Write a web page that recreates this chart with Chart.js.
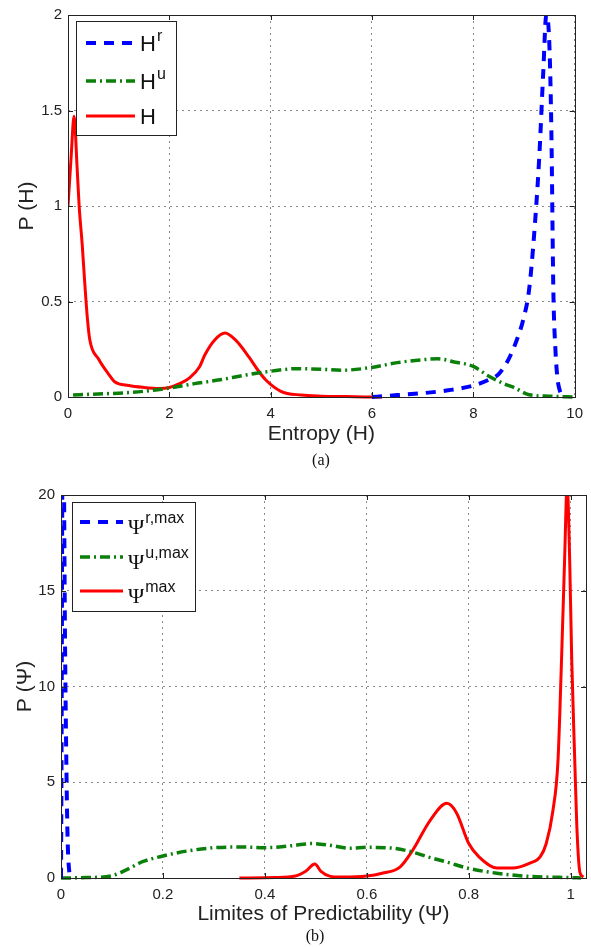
<!DOCTYPE html>
<html>
<head>
<meta charset="utf-8">
<script src="https://cdn.jsdelivr.net/npm/chart.js@4.4.1/dist/chart.umd.min.js"></script>
<style>
  body { margin: 0; background: #fff; width: 591px; height: 947px; position: relative; overflow: hidden; }
  canvas { position: absolute; left: 0; }
  #ca { top: 0; }
  #cb { top: 450px; }
  .cap { position: absolute; font-family: "Liberation Serif", serif; font-size: 16px; color: #111; transform: translate(-50%, -50%); }
</style>
</head>
<body>
<canvas id="ca" width="591" height="450"></canvas>
<canvas id="cb" width="591" height="497"></canvas>
<div class="cap" style="left:321px; top:460px;">(a)</div>
<div class="cap" style="left:315px; top:936px;">(b)</div>
<script>
// (a) entropy distributions
const hX = [0, 0.06, 0.12, 0.18, 0.22, 0.28, 0.33, 0.38, 0.43, 0.6, 0.8, 0.92, 1.2, 1.5, 1.8, 2.0, 2.2, 2.4, 2.6, 2.7, 2.9, 3.1, 3.3, 3.57, 3.75, 3.9, 4.2, 4.6, 5.0, 5.5, 6.0, 6.2];
const hY = [1.0, 1.25, 1.47, 1.2, 1.0, 0.8, 0.6, 0.42, 0.3, 0.2, 0.12, 0.08, 0.06, 0.05, 0.045, 0.05, 0.07, 0.1, 0.16, 0.22, 0.3, 0.335, 0.3, 0.21, 0.14, 0.09, 0.03, 0.01, 0.004, 0.002, 0.0, 0.0];

const hUX = [0.1, 0.5, 1.0, 1.5, 2.0, 2.5, 3.0, 3.5, 4.0, 4.5, 5.0, 5.4, 6.0, 6.5, 7.0, 7.3, 7.6, 8.0, 8.3, 8.6, 8.8, 9.1, 9.5, 10.0];
const hUY = [0.01, 0.015, 0.02, 0.03, 0.047, 0.07, 0.09, 0.115, 0.135, 0.148, 0.145, 0.14, 0.155, 0.18, 0.195, 0.2, 0.185, 0.16, 0.11, 0.07, 0.05, 0.012, 0.004, 0.0];

const hRX = [6.0, 6.5, 7.0, 7.5, 8.0, 8.3, 8.5, 8.7, 8.86, 9.0, 9.1, 9.2, 9.3, 9.38, 9.44, 9.5, 9.54, 9.58, 9.62, 9.66, 9.7, 9.75, 9.8];
const hRY = [0.0, 0.01, 0.02, 0.035, 0.06, 0.09, 0.12, 0.2, 0.3, 0.42, 0.56, 0.85, 1.25, 1.7, 2.0, 1.85, 1.4, 0.55, 0.25, 0.1, 0.04, 0.01, 0.0];

// (b) limits of predictability
const pRX = [0, 0.001, 0.003, 0.005, 0.008, 0.011, 0.013, 0.016, 0.02];
const pRY = [0, 6, 22, 22, 12, 5, 2, 0.4, 0];

const pUX = [0, 0.05, 0.1, 0.13, 0.16, 0.2, 0.25, 0.3, 0.35, 0.4, 0.45, 0.494, 0.53, 0.567, 0.6, 0.65, 0.69, 0.72, 0.756, 0.8, 0.855, 0.9, 0.95, 1.0, 1.02];
const pUY = [0, 0.02, 0.12, 0.45, 0.85, 1.15, 1.42, 1.58, 1.62, 1.58, 1.68, 1.8, 1.7, 1.55, 1.6, 1.56, 1.35, 1.1, 0.84, 0.5, 0.25, 0.12, 0.05, 0.02, 0];

const pMX = [0.35, 0.42, 0.46, 0.48, 0.498, 0.51, 0.527, 0.55, 0.6, 0.63, 0.665, 0.69, 0.724, 0.757, 0.776, 0.8, 0.82, 0.855, 0.886, 0.92, 0.94, 0.952, 0.965, 0.975, 0.982, 0.988, 0.993, 0.998, 1.002, 1.008, 1.012, 1.018, 1.025];
const pMY = [0, 0.02, 0.1, 0.35, 0.73, 0.35, 0.1, 0.05, 0.1, 0.25, 0.57, 1.45, 3.0, 3.9, 3.4, 1.8, 1.1, 0.52, 0.52, 0.78, 1.1, 1.8, 3.5, 6.1, 11.4, 16.6, 20.5, 16.6, 11.4, 6.1, 2.7, 0.3, 0.05];

const xTicksA = [0, 2, 4, 6, 8, 10];
const yTicksA = [0, 0.5, 1, 1.5, 2];
const xTicksB = [0, 0.2, 0.4, 0.6, 0.8, 1];
const yTicksB = [0, 5, 10, 15, 20];

const legendA = [['H', 'r'], ['H', 'u'], ['H', '']];
const legendB = [['Ψ', 'r,max'], ['Ψ', 'u,max'], ['Ψ', 'max']];

const BLUE = '#0000ff', GREEN = '#0a800a', RED = '#ff0000';
const SANS = '"Liberation Sans", Arial, sans-serif';
const SERIF = '"Liberation Serif", "Times New Roman", serif';

const pts = (xs, ys) => xs.map((x, i) => ({ x: x, y: ys[i] }));

function ds(label, xs, ys, color, dash, width) {
  return {
    label: label,
    data: pts(xs, ys),
    borderColor: color,
    borderWidth: width,
    borderDash: dash,
    borderCapStyle: 'butt',
    pointRadius: 0,
    fill: false,
    cubicInterpolationMode: 'monotone',
    clip: { left: 0, top: 0, right: 0, bottom: 3 }
  };
}

// box, inward ticks and a legend with superscripts
const frame = {
  id: 'frame',
  afterDatasetsDraw(chart, args, o) {
    const { ctx, chartArea: a, scales } = chart;
    ctx.save();
    ctx.strokeStyle = '#222';
    ctx.lineWidth = 1;
    ctx.setLineDash([]);
    ctx.beginPath();
    scales.x.ticks.forEach(t => {
      const px = Math.round(scales.x.getPixelForValue(t.value)) + 0.5;
      ctx.moveTo(px, a.bottom); ctx.lineTo(px, a.bottom - 5);
      ctx.moveTo(px, a.top); ctx.lineTo(px, a.top + 5);
    });
    scales.y.ticks.forEach(t => {
      const py = Math.round(scales.y.getPixelForValue(t.value)) + 0.5;
      ctx.moveTo(a.left, py); ctx.lineTo(a.left + 5, py);
      ctx.moveTo(a.right, py); ctx.lineTo(a.right - 5, py);
    });
    ctx.stroke();
    ctx.strokeRect(Math.round(a.left) + 0.5, Math.round(a.top) + 0.5, Math.round(a.right - a.left), Math.round(a.bottom - a.top));

    // legend
    const b = o.box;
    ctx.fillStyle = '#fff';
    ctx.fillRect(b[0], b[1], b[2] - b[0], b[3] - b[1]);
    ctx.strokeRect(b[0] + 0.5, b[1] + 0.5, b[2] - b[0], b[3] - b[1]);
    chart.data.datasets.forEach((d, i) => {
      const y = o.rows[i];
      ctx.save();
      ctx.strokeStyle = d.borderColor;
      ctx.lineWidth = d.borderWidth;
      ctx.setLineDash(d.borderDash || []);
      ctx.beginPath();
      ctx.moveTo(o.sample[0], y);
      ctx.lineTo(o.sample[1], y);
      ctx.stroke();
      ctx.restore();
      ctx.fillStyle = '#111';
      ctx.textBaseline = 'alphabetic';
      ctx.font = o.baseFont;
      const [base, sup] = o.items[i];
      ctx.fillText(base, o.textX, y + o.baseOff);
      const w = ctx.measureText(base).width;
      ctx.font = o.supFont;
      ctx.fillText(sup, o.textX + w + 1, y + o.supOff);
    });
    ctx.restore();
  }
};

function axes(xmin, xmax, xt, ymin, ymax, yt, yWidth, xHeight, xTitle, yTitle, xPadB, yPad, tickPad) {
  const grid = { color: '#8a8a8a', lineWidth: 1, drawTicks: false };
  const border = { display: false, dash: [2, 4] };
  const tickFont = { family: SANS, size: 15 };
  return {
    x: {
      type: 'linear', min: xmin, max: xmax,
      afterBuildTicks: s => { s.ticks = xt.map(v => ({ value: v })); },
      afterFit: s => { s.height = xHeight; },
      grid: grid, border: border,
      ticks: { font: tickFont, color: '#222', padding: tickPad, maxRotation: 0, autoSkip: false, callback: v => String(v) },
      title: { display: true, text: xTitle, color: '#222', font: { family: SANS, size: 21 }, padding: { top: 0, bottom: xPadB } }
    },
    y: {
      type: 'linear', min: ymin, max: ymax,
      afterBuildTicks: s => { s.ticks = yt.map(v => ({ value: v })); },
      afterFit: s => { s.width = yWidth; },
      grid: grid, border: border,
      ticks: { font: tickFont, color: '#222', padding: 6, autoSkip: false, callback: v => String(v) },
      title: { display: true, text: yTitle, color: '#222', font: { family: SANS, size: 21 }, padding: { top: yPad, bottom: 0 } }
    }
  };
}

new Chart(document.getElementById('ca'), {
  type: 'line',
  data: {
    datasets: [
      ds('Hr', hRX, hRY, BLUE, [10, 8], 4),
      ds('Hu', hUX, hUY, GREEN, [10, 4, 2, 4], 3.5),
      ds('H', hX, hY, RED, [], 3)
    ]
  },
  options: {
    responsive: false,
    animation: false,
    layout: { autoPadding: false, padding: { left: 0, top: 13, right: 13, bottom: 0 } },
    plugins: {
      legend: { display: false },
      tooltip: { enabled: false },
      frame: {
        box: [76, 21, 176, 135], rows: [43, 81, 116], sample: [86, 135], textX: 140,
        items: legendA, baseFont: '22px ' + SANS, supFont: '16px ' + SANS, baseOff: 8, supOff: -2
      }
    },
    scales: axes(0, 10, xTicksA, 0, 2, yTicksA, 68, 53, 'Entropy (H)', 'P (H)', 3.4, 14.4, 8)
  },
  plugins: [frame]
});

new Chart(document.getElementById('cb'), {
  type: 'line',
  data: {
    datasets: [
      ds('Psi r,max', pRX, pRY, BLUE, [10, 8], 4),
      ds('Psi u,max', pUX, pUY, GREEN, [10, 4, 2, 4], 3.5),
      ds('Psi max', pMX, pMY, RED, [], 3)
    ]
  },
  options: {
    responsive: false,
    animation: false,
    layout: { autoPadding: false, padding: { left: 0, top: 45, right: 5, bottom: 0 } },
    plugins: {
      legend: { display: false },
      tooltip: { enabled: false },
      frame: {
        box: [72, 52, 195, 161], rows: [72, 107, 141], sample: [80, 123], textX: 128,
        items: legendB, baseFont: '22px ' + SERIF, supFont: '16px ' + SANS, baseOff: 12, supOff: 1
      }
    },
    scales: axes(0, 1.03, xTicksB, 0, 20, yTicksB, 61, 69, 'Limites of Predictability (Ψ)', 'P (Ψ)', 20.4, 12.4, 8)
  },
  plugins: [frame]
});
</script>
</body>
</html>
